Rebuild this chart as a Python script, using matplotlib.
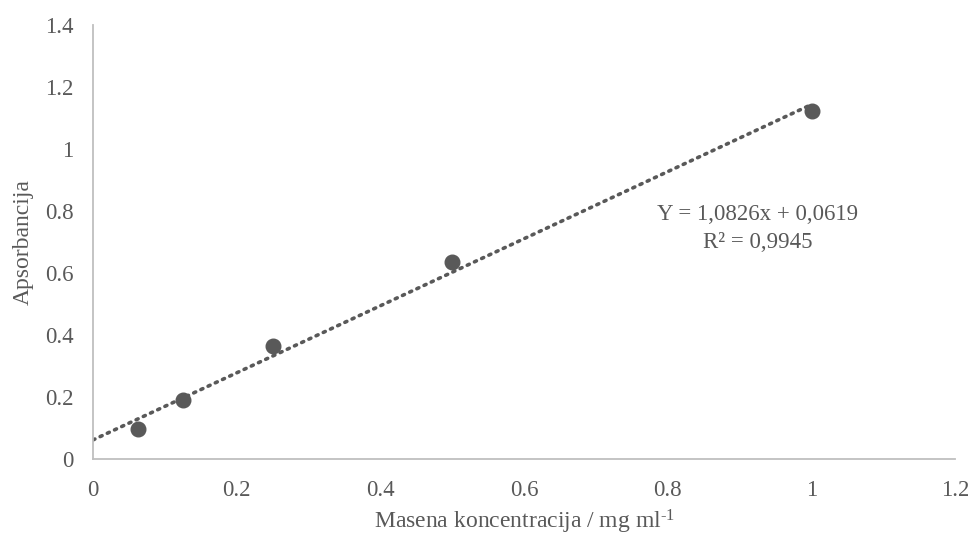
import numpy as np
import matplotlib
matplotlib.use('Agg')
import matplotlib.pyplot as plt

plt.rcParams['font.family'] = ['Liberation Serif', 'DejaVu Serif']
plt.rcParams['mathtext.fontset'] = 'custom'
plt.rcParams['mathtext.rm'] = 'Liberation Serif'
plt.rcParams['mathtext.it'] = 'Liberation Serif:italic'

# measured points
konc = [0.0625, 0.125, 0.25, 0.5, 1.0]
aps = [0.097, 0.192, 0.365, 0.635, 1.122]

# Excel trendline
slope = 1.0826
intercept = 0.0619
r2 = 0.9945

xticks = [0, 0.2, 0.4, 0.6, 0.8, 1, 1.2]
xticklabels = ['0', '0.2', '0.4', '0.6', '0.8', '1', '1.2']
yticks = [0, 0.2, 0.4, 0.6, 0.8, 1, 1.2, 1.4]
yticklabels = ['0', '0.2', '0.4', '0.6', '0.8', '1', '1.2', '1.4']

grey = '#595959'

fig = plt.figure(figsize=(9.68, 5.37), dpi=100)
ax = fig.add_axes([0.096, 0.145, 0.891, 0.808])

xl = np.array([0, max(konc)])
ax.plot(xl, slope * xl + intercept, linestyle=(0, (0.6, 1.6)), color=grey,
        linewidth=2.6, dash_capstyle='round', zorder=2)
ax.plot(konc, aps, 'o', color=grey, markersize=10.5, zorder=3)

ax.text(0.925, 0.745, 'Y = 1,0826x + 0,0619\nR² = 0,9945', ha='center', va='center',
        fontsize=16.5, color=grey, linespacing=1.45)

ax.set_xlim(0, 1.2)
ax.set_ylim(0, 1.4)
ax.set_xticks(xticks)
ax.set_xticklabels(xticklabels)
ax.set_yticks(yticks)
ax.set_yticklabels(yticklabels)
ax.tick_params(length=0, labelsize=16.5, labelcolor=grey)
ax.tick_params(axis='x', pad=15)
ax.tick_params(axis='y', pad=14)

for s in ['top', 'right']:
    ax.spines[s].set_visible(False)
for s in ['left', 'bottom']:
    ax.spines[s].set_color('#BFBFBF')
    ax.spines[s].set_linewidth(1.3)

ax.set_xlabel('Masena koncentracija / mg ml$^{\\text{-1}}$', fontsize=17, color=grey, labelpad=5)
ax.set_ylabel('Apsorbancija', fontsize=17, color=grey, labelpad=8)

fig.savefig('out.png', dpi=100)
